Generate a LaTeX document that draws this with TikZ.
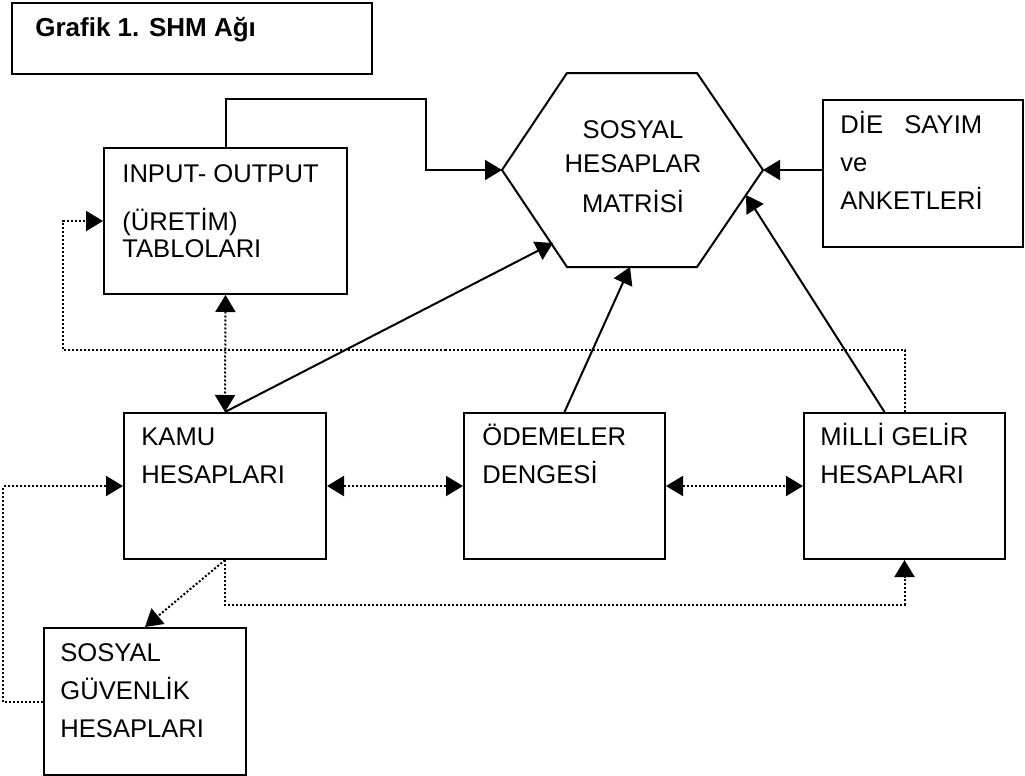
\documentclass[tikz,border=0pt]{standalone}
\usepackage{fontspec}
\setmainfont{Liberation Sans}
\usetikzlibrary{arrows.meta, positioning}

\begin{document}
\begin{tikzpicture}[
    x=0.5pt, y=-0.5pt,
    >={Triangle[length=8.5pt, width=10pt]},
    block/.style={rectangle, draw, line width=1pt, anchor=north west, inner sep=0pt, minimum width=101pt, minimum height=73pt},
    label/.style={anchor=base west, align=left, inner sep=0pt, font=\fontsize{12.8}{19}\selectfont},
    arrow/.style={->, line width=1pt},
    dotline/.style={line width=1pt, dash pattern=on 1pt off 1pt}
]
\useasboundingbox (0,0) rectangle (1025,776);

% title
\node[block, minimum width=180pt, minimum height=35.5pt] (title) at (11,2) {};
\node[label, font=\fontsize{13}{19}\selectfont\bfseries] (titletext) at (35,37) {Grafik 1. SHM Ağı};

% boxes
\node[block, minimum width=121.5pt] (io) at (103,147) {};
\node[block, minimum width=100pt, minimum height=73.5pt] (die) at (822,99) {};
\node[block] (kamu) at (123,412) {};
\node[block, minimum width=100.5pt] (odeme) at (463,412) {};
\node[block, minimum width=100.5pt] (milli) at (803,412) {};
\node[block, minimum height=73.5pt] (sgh) at (43,627) {};

% texts (base = last line)
\node[label] (iotext) at (122,257) {INPUT- OUTPUT\\[5pt](ÜRETİM)\\[-5.5pt]TABLOLARI};
\node[label] (dietext) at (840,209) {DİE~~~SAYIM\\ve\\ANKETLERİ};
\node[label] (kamutext) at (141,483) {KAMU\\HESAPLARI};
\node[label] (odemetext) at (482,483) {ÖDEMELER\\DENGESİ};
\node[label] (millitext) at (820,483) {MİLLİ GELİR\\HESAPLARI};
\node[label] (sghtext) at (60,737) {SOSYAL\\GÜVENLİK\\HESAPLARI};

% hexagon
\coordinate (hexNW) at (567,73);
\coordinate (hexNE) at (697,73);
\coordinate (hexE) at (763,170);
\coordinate (hexSE) at (697,267);
\coordinate (hexSW) at (567,267);
\coordinate (hexW) at (502,170);
\draw[line width=1pt] (hexNW) -- (hexNE) -- (hexE) -- (hexSE) -- (hexSW) -- (hexW) -- cycle;
\node[label, anchor=base, align=center] (hex) at (633,212) {SOSYAL\\[-2pt]HESAPLAR\\[1pt]MATRİSİ};

\coordinate (hexinL) at (553,243);
\coordinate (hexinB) at (630,267);
\coordinate (hexinR) at (746,195);

% solid connectors
\draw[arrow] (io.north) -- ++(0,-48) -- ++(200,0) |- (hexW);
\draw[arrow] (die.west |- hexE) -- (hexE);
\draw[arrow] (kamu.north) -- (hexinL);
\draw[arrow] (odeme.north) -- (hexinB);
\draw[arrow] ([xshift=-10pt]milli.north) -- (hexinR);

% dotted connectors
\draw[dotline, <->] (io.south) -- (kamu.north);
\draw[dotline, <->] (kamu.east) -- (odeme.west);
\draw[dotline, <->] (odeme.east) -- (milli.west);
\draw[dotline, ->] (milli.north) -- ++(0,-62) -| ([xshift=-20pt]io.west) -- (io.west);
\draw[dotline, ->] (kamu.south) -- (sgh.north);
\draw[dotline, ->] (kamu.south) -- ++(0,45) -| (milli.south);
\draw[dotline, ->] (sgh.west) -- ++(-40,0) |- (kamu.west);

\end{tikzpicture}
\end{document}
